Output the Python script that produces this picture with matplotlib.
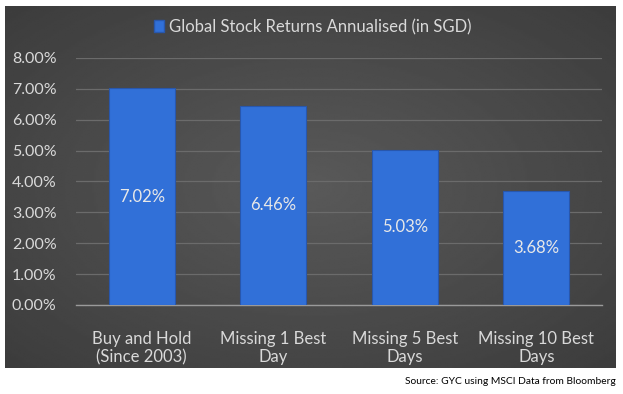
import numpy as np
import matplotlib.pyplot as plt
from matplotlib.patches import Patch

# data
categories = ["Buy and Hold\n(Since 2003)", "Missing 1 Best\nDay", "Missing 5 Best\nDays", "Missing 10 Best\nDays"]
returns = [7.02, 6.46, 5.03, 3.68]
yticks = [0, 1, 2, 3, 4, 5, 6, 7, 8]
series_name = "Global Stock Returns Annualised (in SGD)"
source = "Source: GYC using MSCI Data from Bloomberg"

plt.rcParams['font.family'] = ['Lato', 'DejaVu Sans']

fig = plt.figure(figsize=(6.23, 3.94), dpi=100)
fig.patch.set_facecolor('white')

# dark panel with a soft radial gradient
bg = fig.add_axes([5/623, 26/394, 610/623, 362/394], zorder=0)
yy, xx = np.mgrid[-1:1:200j, -1:1:300j]
r = np.sqrt(xx**2 + yy**2)
bg.imshow(0.35 - 0.08 * np.clip(r, 0, 1.4), cmap='gray', vmin=0, vmax=1,
          aspect='auto', extent=[0, 1, 0, 1], interpolation='bilinear')
bg.set_axis_off()

ax = fig.add_axes([76/623, 89/394, 526/623, 247/394], zorder=1)
ax.patch.set_alpha(0)

x = np.arange(len(categories))
bars = ax.bar(x, returns, width=0.5, color='#3170d8', edgecolor='#2857ad',
              linewidth=0.8, zorder=3)
for b, v in zip(bars, returns):
    ax.text(b.get_x() + b.get_width() / 2, v / 2, f"{v:.2f}%", ha='center',
            va='center', color='#e8e8e8', fontsize=12, zorder=4)

ax.set_xlim(-0.5, len(categories) - 0.5)
ax.set_ylim(0, 8)
ax.set_yticks(yticks)
ax.set_yticklabels([f"{t:.2f}%" for t in yticks])
ax.set_xticks(x)
ax.set_xticklabels(categories, linespacing=1.15)
ax.tick_params(axis='y', length=0, pad=14, labelcolor='#d9d9d9', labelsize=11.5)
ax.tick_params(axis='x', length=0, pad=19, labelcolor='#d9d9d9', labelsize=12)
ax.grid(axis='y', color='#6b6b6b', linewidth=0.9, zorder=1)
for s in ['top', 'right', 'left']:
    ax.spines[s].set_visible(False)
ax.spines['bottom'].set_color('#9a9a9a')
ax.spines['bottom'].set_linewidth(1.0)

fig.legend(handles=[Patch(facecolor='#3170d8', edgecolor='#2857ad', label=series_name)],
           loc='center', bbox_to_anchor=(313/623, 1 - 27/394), frameon=False,
           fontsize=12, labelcolor='#d9d9d9', handlelength=0.6, handleheight=0.7,
           handletextpad=0.3)

fig.text(616/623, 1 - 382/394, source, ha='right', va='center', fontsize=7.4, color='black')

plt.savefig('out.png', dpi=100)
